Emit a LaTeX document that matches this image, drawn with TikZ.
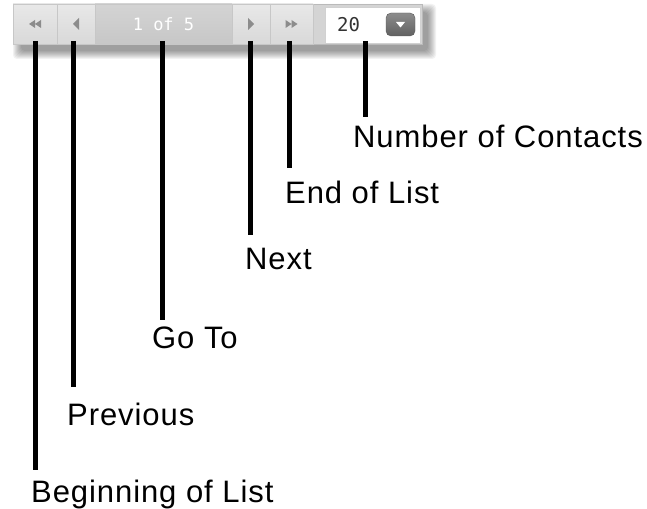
\documentclass[tikz,border=0pt]{standalone}
\usepackage{fontspec}
\newfontfamily\lblfont{Liberation Sans}[LetterSpace=3]
\newfontfamily\monofont{DejaVu Sans Mono}
\begin{document}
\begin{tikzpicture}[x=1pt,y=-1pt,
  btn/.style={draw=black!22, top color=black!9, bottom color=black!15, minimum height=40pt, inner sep=0pt},
  midbtn/.style={draw=black!22, top color=black!17, bottom color=black!22, minimum height=40pt, inner sep=0pt},
  icon/.style={fill=black!45},
  lbl/.style={font=\lblfont\fontsize{31}{36}\selectfont, anchor=base west, inner sep=0pt, text=black},
  leader/.style={line width=5pt, black}
]
\useasboundingbox (0,0) rectangle (647,508);
% shadow
\foreach \i in {0,...,8}{
  \fill[black, opacity=0.05, rounded corners=4pt] (21-\i,12-\i) rectangle (428+\i,51+\i);
}
% toolbar body
\node[draw=black!27, fill=black!17, minimum width=409pt, minimum height=40pt, inner sep=0pt] (bar) at (217.5,24) {};
\node[btn, minimum width=44pt] (first) at (35,24) {};
\node[btn, minimum width=38pt] (prev) at (76,24) {};
\node[midbtn, minimum width=137pt, font=\monofont\fontsize{17}{20}\selectfont, text=white] (goto) at (163.5,24) {1 of 5};
\node[btn, minimum width=38pt] (next) at (251,24) {};
\node[btn, minimum width=43pt] (last) at (291.5,24) {};
\node[draw=black!18, fill=white, minimum width=95pt, minimum height=36pt, inner sep=0pt] (num) at (372.5,25) {};
\node[font=\monofont\fontsize{19}{22}\selectfont, text=black!80, anchor=west, inner sep=0pt] (numtxt) at (337,25) {20};
\node[draw=black!65, top color=black!45, bottom color=black!62, rounded corners=5pt, minimum width=29pt, minimum height=23pt, inner sep=0pt] (drop) at (400.5,24.5) {};
\fill[white, shift={(drop.center)}] (-4.5,-2.5) -- (4.5,-2.5) -- (0,3) -- cycle;
% icons
\fill[icon, shift={(first.center)}] (0,-4) -- (-6,0) -- (0,4) -- cycle (6,-4) -- (0,0) -- (6,4) -- cycle;
\fill[icon, shift={(prev.center)}] (3,-6) -- (-3,0) -- (3,6) -- cycle;
\fill[icon, shift={(next.center)}] (-3,-6) -- (3,0) -- (-3,6) -- cycle;
\fill[icon, shift={(last.center)}] (-6,-4) -- (0,0) -- (-6,4) -- cycle (0,-4) -- (6,0) -- (0,4) -- cycle;
% labels
\node[lbl] (l1) at (31,502) {Beginning of List};
\node[lbl] (l2) at (67,425) {Previous};
\node[lbl] (l3) at (152,348) {Go To};
\node[lbl] (l4) at (245,269) {Next};
\node[lbl] (l5) at (285,203) {End of List};
\node[lbl] (l6) at (353,147) {Number of Contacts};
% leader lines
\coordinate (t1) at (35,41);  \coordinate (e1) at (35,470);
\coordinate (t2) at (73,41);  \coordinate (e2) at (73,387);
\coordinate (t3) at (162,41); \coordinate (e3) at (162,320);
\coordinate (t4) at (250,41); \coordinate (e4) at (250,235);
\coordinate (t5) at (289,41); \coordinate (e5) at (289,168);
\coordinate (t6) at (365,41); \coordinate (e6) at (365,117);
\foreach \k in {1,...,6}{ \draw[leader] (t\k) -- (e\k); }
\end{tikzpicture}
\end{document}
